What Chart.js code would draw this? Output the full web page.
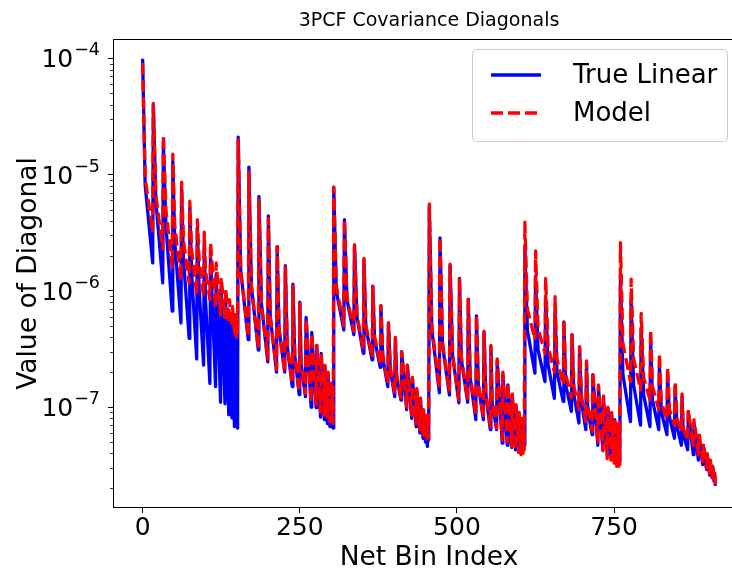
<!DOCTYPE html>
<html>
<head>
<meta charset="utf-8">
<title>3PCF Covariance Diagonals</title>
<script src="https://cdn.jsdelivr.net/npm/chart.js@4.4.1/dist/chart.umd.min.js"></script>
<style>
    html, body { margin: 0; padding: 0; background: #fff; overflow: hidden; }
    #wrap { width: 732px; height: 575px; overflow: hidden; }
</style>
</head>
<body>
<div id="wrap"><canvas id="covChart" width="760" height="575"></canvas></div>
<script>
// bin layout: 6 blocks of 152 bins, each block split in 16 runs (lengths 17..2)
const blockStart = [0, 152, 304, 456, 608, 760];
const runStart = [0, 17, 33, 48, 62, 75, 87, 98, 108, 117, 125, 132, 138, 143, 147, 150];
const runLength = [17, 16, 15, 14, 13, 12, 11, 10, 9, 8, 7, 6, 5, 4, 3, 2];
const kneeOffset = [4, 4, 4, 3, 3, 3, 3, 2]; // knee point inside the 8 longest runs

const xTicks = [0, 250, 500, 750];
const yTicks = [1e-7, 1e-6, 1e-5, 1e-4];
const yTickExp = ['\u22127', '\u22126', '\u22125', '\u22124'];

// True Linear: value at start of run, at the knee, at end of run
const trueHi = [
    [9.9e-5, 4.0e-5, 1.9e-5, 1.3e-5, 7.4e-6, 5.2e-6, 3.5e-6, 2.6e-6, 2.0e-6, 1.4e-6, 1.0e-6, 8.4e-7, 6.2e-7, 5.1e-7, 4.2e-7, 3.4e-7],
    [2.1e-5, 1.16e-5, 6.5e-6, 4.4e-6, 2.4e-6, 1.65e-6, 1.14e-6, 8.0e-7, 5.9e-7, 4.4e-7, 3.4e-7, 2.9e-7, 2.2e-7, 1.9e-7, 1.55e-7, 1.41e-7],
    [7.8e-6, 4.1e-6, 2.45e-6, 1.85e-6, 1.1e-6, 7.4e-7, 5.3e-7, 3.9e-7, 3.0e-7, 2.3e-7, 1.8e-7, 1.4e-7, 1.15e-7, 8.6e-8, 7.8e-8, 7.5e-8],
    [5.3e-6, 2.85e-6, 1.65e-6, 1.28e-6, 8.5e-7, 6.1e-7, 4.4e-7, 3.3e-7, 2.5e-7, 1.9e-7, 1.55e-7, 1.27e-7, 1.0e-7, 8.6e-8, 7.8e-8, 7.0e-8],
    [2.4e-6, 1.33e-6, 8.9e-7, 6.9e-7, 5.4e-7, 4.2e-7, 3.3e-7, 2.4e-7, 1.9e-7, 1.5e-7, 1.19e-7, 9.8e-8, 8.6e-8, 7.8e-8, 7.0e-8, 6.4e-8],
    [1.33e-6, 8.4e-7, 4.8e-7, 3.9e-7, 2.3e-7, 1.96e-7, 1.5e-7, 1.23e-7, 8.9e-8, 7.3e-8, 5.6e-8, 4.6e-8, 3.75e-8, 3.4e-8, 3.0e-8, 2.6e-8]
];
const trueKnee = [
    [8.1e-6, 6.0e-6, 3.7e-6, 2.7e-6, 1.85e-6, 1.4e-6, 1.0e-6, 8.4e-7],
    [1.5e-6, 1.1e-6, 7.7e-7, 6.0e-7, 4.7e-7, 3.4e-7, 2.8e-7, 2.4e-7],
    [1.0e-6, 8.4e-7, 5.9e-7, 4.9e-7, 3.8e-7, 2.65e-7, 2.1e-7, 1.8e-7],
    [4.6e-7, 3.4e-7, 2.8e-7, 2.55e-7, 1.8e-7, 1.55e-7, 1.27e-7, 1.09e-7],
    [4.6e-7, 3.1e-7, 2.3e-7, 2.0e-7, 1.55e-7, 1.27e-7, 1.1e-7, 9.5e-8],
    [1.9e-7, 1.55e-7, 1.27e-7, 1.15e-7, 9.1e-8, 8.2e-8, 6.8e-8, 5.8e-8]
];
const trueLo = [
    [1.74e-6, 1.17e-6, 6.7e-7, 5.3e-7, 3.9e-7, 2.6e-7, 2.3e-7, 1.6e-7, 1.5e-7, 1.1e-7, 1.07e-7, 8.6e-8, 8.1e-8, 6.8e-8, 7.0e-8, 6.6e-8],
    [3.8e-7, 3.1e-7, 2.45e-7, 2.0e-7, 2.0e-7, 1.5e-7, 1.28e-7, 1.23e-7, 1.0e-7, 9.9e-8, 8.2e-8, 7.8e-8, 7.2e-8, 6.8e-8, 7.0e-8, 6.6e-8],
    [4.6e-7, 4.2e-7, 2.9e-7, 2.55e-7, 2.2e-7, 1.5e-7, 1.23e-7, 1.15e-7, 9.5e-8, 8.0e-8, 6.8e-8, 6.0e-8, 5.4e-8, 5.0e-8, 4.6e-8, 5.2e-8],
    [1.33e-7, 1.27e-7, 1.09e-7, 1.1e-7, 7.8e-8, 7.8e-8, 6.4e-8, 6.4e-8, 4.9e-8, 4.7e-8, 4.5e-8, 4.3e-8, 4.1e-8, 4.0e-8, 4.3e-8, 4.7e-8],
    [1.96e-7, 1.66e-7, 1.19e-7, 1.12e-7, 9.2e-8, 7.3e-8, 6.4e-8, 5.8e-8, 4.7e-8, 4.3e-8, 3.9e-8, 3.7e-8, 3.5e-8, 3.3e-8, 3.2e-8, 3.4e-8],
    [7.5e-8, 7.0e-8, 6.8e-8, 6.4e-8, 5.8e-8, 5.4e-8, 4.7e-8, 4.3e-8, 3.9e-8, 3.5e-8, 3.2e-8, 2.9e-8, 2.6e-8, 2.46e-8, 2.3e-8, 2.1e-8]
];

// Model
const modelHi = [
    [9.1e-5, 4.1e-5, 2.2e-5, 1.5e-5, 8.6e-6, 5.9e-6, 4.1e-6, 3.2e-6, 2.6e-6, 1.74e-6, 1.3e-6, 1.06e-6, 8.4e-7, 7.3e-7, 6.6e-7, 6.2e-7],
    [2.0e-5, 1.05e-5, 6.0e-6, 4.2e-6, 2.4e-6, 1.6e-6, 1.1e-6, 7.8e-7, 5.8e-7, 4.3e-7, 3.4e-7, 2.9e-7, 2.3e-7, 2.0e-7, 1.7e-7, 1.5e-7],
    [7.8e-6, 4.1e-6, 2.5e-6, 1.9e-6, 1.1e-6, 7.5e-7, 5.3e-7, 4.0e-7, 3.0e-7, 2.3e-7, 1.8e-7, 1.45e-7, 1.2e-7, 9.5e-8, 8.5e-8, 8.0e-8],
    [5.6e-6, 2.9e-6, 1.7e-6, 1.3e-6, 8.7e-7, 6.2e-7, 4.5e-7, 3.4e-7, 2.6e-7, 2.0e-7, 1.6e-7, 1.3e-7, 1.05e-7, 9.0e-8, 8.0e-8, 7.2e-8],
    [3.9e-6, 2.2e-6, 1.28e-6, 8.9e-7, 5.6e-7, 4.2e-7, 3.3e-7, 2.5e-7, 2.0e-7, 1.55e-7, 1.25e-7, 1.0e-7, 9.0e-8, 8.0e-8, 7.2e-8, 6.5e-8],
    [2.6e-6, 1.26e-6, 6.4e-7, 4.6e-7, 2.9e-7, 2.2e-7, 1.65e-7, 1.3e-7, 9.5e-8, 7.8e-8, 6.0e-8, 4.9e-8, 4.0e-8, 3.5e-8, 3.1e-8, 2.7e-8]
];
const modelKnee = [
    [9.3e-6, 6.7e-6, 5.0e-6, 3.7e-6, 2.7e-6, 2.25e-6, 1.8e-6, 1.5e-6],
    [1.5e-6, 1.1e-6, 7.7e-7, 6.0e-7, 4.7e-7, 3.4e-7, 2.8e-7, 2.4e-7],
    [1.1e-6, 8.8e-7, 6.2e-7, 5.1e-7, 4.0e-7, 2.8e-7, 2.2e-7, 1.9e-7],
    [5.0e-7, 3.6e-7, 2.9e-7, 2.7e-7, 1.9e-7, 1.6e-7, 1.3e-7, 1.12e-7],
    [7.0e-7, 4.8e-7, 3.3e-7, 2.6e-7, 1.9e-7, 1.5e-7, 1.25e-7, 1.05e-7],
    [3.5e-7, 2.6e-7, 1.8e-7, 1.5e-7, 1.1e-7, 9.5e-8, 8.0e-8, 6.5e-8]
];
const modelLo = [
    [3.2e-6, 2.3e-6, 1.6e-6, 1.24e-6, 1.17e-6, 9.2e-7, 8.9e-7, 8.4e-7, 7.1e-7, 6.2e-7, 5.9e-7, 5.3e-7, 4.9e-7, 4.4e-7, 4.0e-7, 4.2e-7],
    [4.0e-7, 3.2e-7, 2.6e-7, 2.1e-7, 2.0e-7, 1.6e-7, 1.35e-7, 1.3e-7, 1.1e-7, 1.05e-7, 9.0e-8, 8.5e-8, 8.0e-8, 7.5e-8, 7.5e-8, 7.2e-8],
    [5.0e-7, 4.5e-7, 3.1e-7, 2.7e-7, 2.3e-7, 1.6e-7, 1.3e-7, 1.2e-7, 1.0e-7, 8.5e-8, 7.2e-8, 6.4e-8, 5.8e-8, 5.3e-8, 5.0e-8, 5.5e-8],
    [1.45e-7, 1.35e-7, 1.15e-7, 1.15e-7, 8.5e-8, 8.0e-8, 6.8e-8, 6.6e-8, 5.2e-8, 5.0e-8, 4.6e-8, 4.3e-8, 4.1e-8, 3.9e-8, 4.0e-8, 4.3e-8],
    [3.8e-7, 2.9e-7, 2.0e-7, 1.55e-7, 1.2e-7, 9.5e-8, 7.5e-8, 6.2e-8, 5.0e-8, 4.2e-8, 3.6e-8, 3.5e-8, 3.3e-8, 3.1e-8, 3.0e-8, 3.2e-8],
    [1.65e-7, 1.4e-7, 1.15e-7, 9.5e-8, 7.8e-8, 7.0e-8, 6.1e-8, 5.2e-8, 4.5e-8, 3.9e-8, 3.4e-8, 3.0e-8, 2.7e-8, 2.5e-8, 2.3e-8, 2.15e-8]
];

const FONT = 'DejaVu Sans';

function buildSeries(hi, knee, lo) {
    const pts = [];
    for (let b = 0; b < blockStart.length; b++) {
        for (let s = 0; s < runStart.length; s++) {
            const x0 = blockStart[b] + runStart[s];
            pts.push({x: x0, y: hi[b][s]});
            if (s < knee[b].length) pts.push({x: x0 + kneeOffset[s], y: knee[b][s]});
            pts.push({x: x0 + runLength[s] - 1, y: lo[b][s]});
        }
    }
    return pts;
}

// frame, log tick labels with superscripts, minor ticks, title and the boxed legend
const decorPlugin = {
    id: 'decor',
    afterDraw(chart) {
        const {ctx, chartArea: a, scales} = chart;
        ctx.save();
        ctx.strokeStyle = '#000';
        ctx.lineWidth = 1;
        ctx.strokeRect(Math.round(a.left) - 0.5, Math.round(a.top) - 0.5, a.right - a.left, Math.round(a.bottom) - Math.round(a.top) + 1);

        // minor ticks
        const ys = scales.y;
        ctx.lineWidth = 0.8;
        ctx.beginPath();
        for (let e = -9; e <= -4; e++) {
            for (let m = 2; m <= 9; m++) {
                const v = m * Math.pow(10, e);
                if (v < ys.min || v > ys.max) continue;
                const py = Math.round(ys.getPixelForValue(v)) + 0.5;
                ctx.moveTo(a.left - 4, py);
                ctx.lineTo(a.left, py);
            }
        }
        ctx.stroke();

        // y tick labels, 10 with a raised exponent
        ctx.fillStyle = '#000';
        ctx.textBaseline = 'alphabetic';
        yTicks.forEach((v, i) => {
            const py = ys.getPixelForValue(v);
            const right = a.left - 14;
            ctx.font = '17.5px "' + FONT + '"';
            const supW = ctx.measureText(yTickExp[i]).width;
            ctx.textAlign = 'left';
            ctx.fillText(yTickExp[i], right - supW, py - 3);
            ctx.font = '25px "' + FONT + '"';
            ctx.textAlign = 'right';
            ctx.fillText('10', right - supW - 1, py + 9);
        });

        // title
        ctx.font = '19px "' + FONT + '"';
        ctx.textAlign = 'center';
        ctx.fillText('3PCF Covariance Diagonals', (a.left + a.right) / 2, 26);

        // legend
        const bx = a.right - 272, by = a.top + 9, bw = 255, bh = 92;
        ctx.beginPath();
        ctx.roundRect(bx + 0.5, by + 0.5, bw, bh, 4);
        ctx.fillStyle = 'rgba(255,255,255,0.8)';
        ctx.fill();
        ctx.strokeStyle = '#cccccc';
        ctx.lineWidth = 1;
        ctx.stroke();
        ctx.font = '26px "' + FONT + '"';
        ctx.textAlign = 'left';
        ctx.textBaseline = 'middle';
        chart.data.datasets.forEach((ds, i) => {
            const ly = by + 26 + i * 38;
            ctx.beginPath();
            ctx.strokeStyle = ds.borderColor;
            ctx.lineWidth = ds.borderWidth;
            ctx.setLineDash(ds.borderDash || []);
            ctx.lineCap = 'butt';
            ctx.moveTo(bx + 19, ly);
            ctx.lineTo(bx + 69, ly);
            ctx.stroke();
            ctx.setLineDash([]);
            ctx.fillStyle = '#000';
            ctx.fillText(ds.label, bx + 101, ly + 1);
        });
        ctx.restore();
    }
};

const ctx = document.getElementById('covChart').getContext('2d');
new Chart(ctx, {
    type: 'line',
    data: {
        datasets: [
            {
                label: 'True Linear',
                data: buildSeries(trueHi, trueKnee, trueLo),
                borderColor: '#0000ff',
                borderWidth: 3.3,
                borderJoinStyle: 'round',
                pointRadius: 0,
                tension: 0,
                fill: false,
                order: 2
            },
            {
                label: 'Model',
                data: buildSeries(modelHi, modelKnee, modelLo),
                borderColor: '#ff0000',
                borderWidth: 3.3,
                borderDash: [12, 5],
                borderJoinStyle: 'round',
                pointRadius: 0,
                tension: 0,
                fill: false,
                order: 1
            }
        ]
    },
    options: {
        responsive: false,
        animation: false,
        events: [],
        layout: {padding: {left: 0, right: 16, top: 40, bottom: 0}},
        plugins: {
            legend: {display: false},
            tooltip: {enabled: false},
            title: {display: false}
        },
        scales: {
            x: {
                type: 'linear',
                min: -45.55,
                max: 956.55,
                afterBuildTicks: (s) => { s.ticks = xTicks.map(v => ({value: v})); },
                afterFit: (s) => { s.height = 68; },
                grid: {display: true, drawOnChartArea: false, drawTicks: true, tickLength: 6, tickColor: '#000', tickWidth: 1},
                border: {display: false},
                ticks: {color: '#000', padding: 0, maxRotation: 0, font: {family: FONT, size: 25, lineHeight: 1.2}},
                title: {display: true, text: 'Net Bin Index', color: '#000', font: {family: FONT, size: 26.5, lineHeight: 1.2}, padding: {top: 0, bottom: 1}}
            },
            y: {
                type: 'logarithmic',
                min: 1.384e-8,
                max: 1.436e-4,
                afterBuildTicks: (s) => { s.ticks = yTicks.map(v => ({value: v})); },
                afterFit: (s) => { s.width = 114; },
                grid: {display: true, drawOnChartArea: false, drawTicks: true, tickLength: 6, tickColor: '#000', tickWidth: 1},
                border: {display: false},
                ticks: {display: false},
                title: {display: true, text: 'Value of Diagonal', color: '#000', font: {family: FONT, size: 26.5, lineHeight: 1.2}, padding: {top: 13, bottom: 0}}
            }
        }
    },
    plugins: [decorPlugin]
});
</script>
</body>
</html>
